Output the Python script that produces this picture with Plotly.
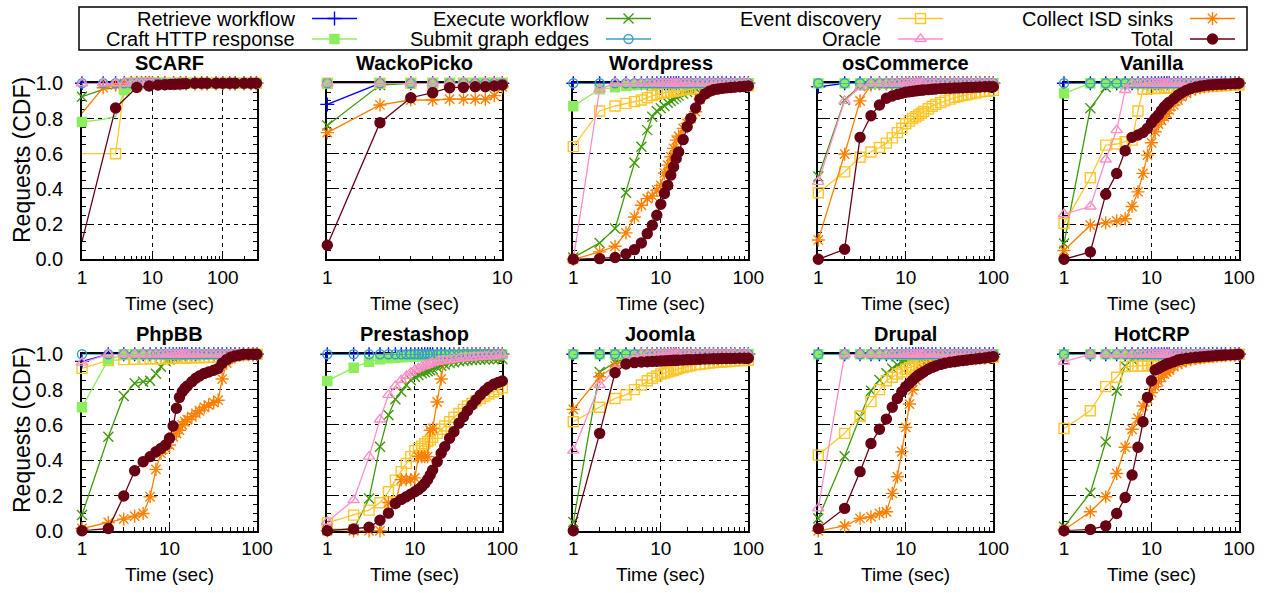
import math
import plotly.graph_objects as go

FIG_W, FIG_H = 1273, 593
FONT = "Liberation Sans, Arial, sans-serif"

APPS = ["SCARF", "WackoPicko", "Wordpress", "osCommerce", "Vanilla",
        "PhpBB", "Prestashop", "Joomla", "Drupal", "HotCRP"]
SERIES = ["Retrieve workflow", "Craft HTTP response", "Execute workflow",
          "Submit graph edges", "Event discovery", "Oracle",
          "Collect ISD sinks", "Total"]
COLORS = ["#0000ff", "#8cee5c", "#3f9b0b", "#3a9ec2",
          "#ffc62a", "#ff8ec8", "#ff8000", "#680014"]
SYMBOLS = ["cross-thin-open", "square", "x-thin-open", "circle-open",
           "square-open", "triangle-up-open", "asterisk-open", "circle"]
MSIZES = [10, 9, 10, 9, 10, 10, 11, 10]
# the key is filled row by row, which is also the drawing order
DRAW_ORDER = [0, 2, 4, 6, 1, 3, 5, 7]

# ---------------- x grids (seconds) ----------------
X_GRID = [1, 2, 3, 4, 5, 6, 7, 8, 9, 10, 11, 12, 13, 14, 15, 16, 18, 20, 22, 25,
          28, 32, 36, 40, 45, 50, 56, 63, 70, 80, 90, 100]
X_WACKO = [1, 2, 3, 4, 5, 6, 7, 8, 9, 10]
X_SCARF = [1, 2, 3, 4, 5, 6, 7, 8, 9, 10, 12, 15, 20, 25, 30, 40, 50, 60, 80, 100,
           125, 150, 200, 250, 300]
X_SCARF_TOTAL = [1, 3, 6, 9, 12, 15, 18, 21, 24, 27, 30, 40, 50, 60, 80, 100,
                 125, 150, 200, 250, 300]
MINOR_X = [2, 3, 4, 5, 6, 7, 8, 9, 20, 30, 40, 50, 60, 70, 80, 90, 200, 300]

ONE_GRID = [1, 1, 1, 1, 1, 1, 1, 1, 1, 1, 1, 1, 1, 1, 1, 1, 1, 1, 1, 1, 1, 1, 1, 1,
            1, 1, 1, 1, 1, 1, 1, 1]
ONE_WACKO = [1, 1, 1, 1, 1, 1, 1, 1, 1, 1]
ONE_SCARF = [1, 1, 1, 1, 1, 1, 1, 1, 1, 1, 1, 1, 1, 1, 1, 1, 1, 1, 1, 1, 1, 1, 1, 1, 1]

# ---------------- SCARF ----------------
SC_CRAFT = [0.78, 0.795, 0.81, 0.96, 0.985, 1, 1, 1, 1, 1, 1, 1, 1, 1, 1, 1, 1, 1,
            1, 1, 1, 1, 1, 1, 1]
SC_EXEC = [0.924, 0.965, 0.975, 0.985, 0.99, 1, 1, 1, 1, 1, 1, 1, 1, 1, 1, 1, 1, 1,
           1, 1, 1, 1, 1, 1, 1]
SC_EVENT = [0.60, 0.60, 0.60, 0.97, 1, 1, 1, 1, 1, 1, 1, 1, 1, 1, 1, 1, 1, 1, 1, 1,
            1, 1, 1, 1, 1]
SC_COLLECT = [0.83, 0.975, 0.99, 1, 1, 1, 1, 1, 1, 1, 1, 1, 1, 1, 1, 1, 1, 1, 1, 1,
              1, 1, 1, 1, 1]
SC_TOTAL = [0.10, 0.86, 0.977, 0.985, 0.99, 0.992, 0.994, 0.995, 0.996, 0.997,
            0.998, 1, 1, 1, 1, 1, 1, 1, 1, 1, 1]

# ---------------- WackoPicko ----------------
WK_RETRIEVE = [0.88, 1, 1, 1, 1, 1, 1, 1, 1, 1]
WK_EXEC = [0.76, 0.99, 1, 1, 1, 1, 1, 1, 1, 1]
WK_COLLECT = [0.72, 0.877, 0.905, 0.905, 0.91, 0.91, 0.91, 0.91, 0.93, 0.98]
WK_TOTAL = [0.08, 0.776, 0.918, 0.947, 0.975, 0.977, 0.98, 0.98, 0.985, 0.99]

# ---------------- Wordpress ----------------
WP_CRAFT = [0.87, 0.966, 0.977, 0.985, 0.99, 0.993, 0.995, 0.997, 0.998, 1, 1, 1,
            1, 1, 1, 1, 1, 1, 1, 1, 1, 1, 1, 1, 1, 1, 1, 1, 1, 1, 1, 1]
WP_EXEC = [0.01, 0.093, 0.175, 0.378, 0.548, 0.64, 0.734, 0.81, 0.843, 0.858,
           0.871, 0.89, 0.90, 0.91, 0.92, 0.93, 0.94, 0.95, 0.96, 0.97, 0.98,
           0.985, 0.99, 0.995, 0.997, 1, 1, 1, 1, 1, 1, 1]
WP_EVENT = [0.64, 0.843, 0.871, 0.886, 0.896, 0.905, 0.918, 0.93, 0.937, 0.943,
            0.946, 0.95, 0.952, 0.955, 0.958, 0.96, 0.963, 0.966, 0.968, 0.97,
            0.972, 0.975, 0.977, 0.978, 0.979, 0.98, 0.981, 0.982, 0.983, 0.984,
            0.985, 0.986]
WP_ORACLE = [0, 0.966, 1, 1, 1, 1, 1, 1, 1, 1, 1, 1, 1, 1, 1, 1, 1, 1, 1, 1, 1, 1,
             1, 1, 1, 1, 1, 1, 1, 1, 1, 1]
WP_COLLECT = [0, 0.042, 0.074, 0.15, 0.24, 0.307, 0.345, 0.36, 0.393, 0.42, 0.49,
              0.535, 0.583, 0.63, 0.677, 0.70, 0.744, 0.772, 0.80, 0.838, 0.91,
              0.94, 0.955, 0.965, 0.975, 0.982, 0.988, 0.99, 0.993, 0.995, 0.998, 1]
WP_TOTAL = [0, 0.004, 0.01, 0.03, 0.055, 0.093, 0.146, 0.194, 0.25, 0.313, 0.374,
            0.42, 0.478, 0.526, 0.573, 0.61, 0.68, 0.753, 0.80, 0.86, 0.91, 0.94,
            0.955, 0.963, 0.968, 0.971, 0.974, 0.976, 0.978, 0.98, 0.982, 0.985]

# ---------------- osCommerce ----------------
OS_RETRIEVE = [0.98, 1, 1, 1, 1, 1, 1, 1, 1, 1, 1, 1, 1, 1, 1, 1, 1, 1, 1, 1, 1, 1,
               1, 1, 1, 1, 1, 1, 1, 1, 1, 1]
OS_EXEC = [0.47, 0.905, 0.985, 1, 1, 1, 1, 1, 1, 1, 1, 1, 1, 1, 1, 1, 1, 1, 1, 1,
           1, 1, 1, 1, 1, 1, 1, 1, 1, 1, 1, 1]
OS_EVENT = [0.378, 0.497, 0.58, 0.61, 0.635, 0.66, 0.69, 0.72, 0.745, 0.77, 0.785,
            0.80, 0.81, 0.82, 0.83, 0.84, 0.855, 0.87, 0.88, 0.89, 0.90, 0.91,
            0.92, 0.925, 0.93, 0.935, 0.94, 0.945, 0.95, 0.955, 0.955, 0.96]
OS_ORACLE = [0.44, 0.90, 0.977, 1, 1, 1, 1, 1, 1, 1, 1, 1, 1, 1, 1, 1, 1, 1, 1, 1,
             1, 1, 1, 1, 1, 1, 1, 1, 1, 1, 1, 1]
OS_COLLECT = [0.11, 0.598, 0.90, 0.99, 1, 1, 1, 1, 1, 1, 1, 1, 1, 1, 1, 1, 1, 1, 1,
              1, 1, 1, 1, 1, 1, 1, 1, 1, 1, 1, 1, 1]
OS_TOTAL = [0, 0.057, 0.693, 0.816, 0.877, 0.915, 0.928, 0.937, 0.943, 0.949,
            0.952, 0.955, 0.957, 0.959, 0.961, 0.962, 0.964, 0.966, 0.968, 0.97,
            0.971, 0.972, 0.973, 0.974, 0.975, 0.976, 0.977, 0.978, 0.979, 0.98,
            0.98, 0.98]

# ---------------- Vanilla ----------------
VA_CRAFT = [0.943, 1, 1, 1, 1, 1, 1, 1, 1, 1, 1, 1, 1, 1, 1, 1, 1, 1, 1, 1, 1, 1,
            1, 1, 1, 1, 1, 1, 1, 1, 1, 1]
VA_EXEC = [0.09, 0.858, 0.977, 1, 1, 1, 1, 1, 1, 1, 1, 1, 1, 1, 1, 1, 1, 1, 1, 1,
           1, 1, 1, 1, 1, 1, 1, 1, 1, 1, 1, 1]
VA_EVENT = [0.203, 0.463, 0.649, 0.655, 0.668, 0.677, 0.843, 0.966, 0.968, 0.97,
            0.97, 0.971, 0.971, 0.972, 0.972, 0.973, 0.974, 0.975, 0.976, 0.977,
            0.978, 0.979, 0.98, 0.981, 0.982, 0.983, 0.985, 0.986, 0.987, 0.988,
            0.989, 0.99]
VA_ORACLE = [0.256, 0.30, 0.567, 0.734, 0.962, 1, 1, 1, 1, 1, 1, 1, 1, 1, 1, 1, 1,
             1, 1, 1, 1, 1, 1, 1, 1, 1, 1, 1, 1, 1, 1, 1]
VA_COLLECT = [0.05, 0.194, 0.207, 0.218, 0.23, 0.30, 0.383, 0.488, 0.592, 0.662,
              0.725, 0.768, 0.79, 0.81, 0.829, 0.848, 0.877, 0.905, 0.924, 0.943,
              0.958, 0.967, 0.975, 0.98, 0.985, 0.988, 0.99, 0.992, 0.994, 0.996,
              0.998, 1]
VA_TOTAL = [0, 0.042, 0.37, 0.488, 0.617, 0.693, 0.706, 0.72, 0.744, 0.776, 0.80,
            0.82, 0.845, 0.865, 0.88, 0.893, 0.912, 0.932, 0.945, 0.96, 0.97,
            0.978, 0.983, 0.987, 0.99, 0.992, 0.994, 0.995, 0.996, 0.997, 0.998, 1]

# ---------------- PhpBB ----------------
PH_RETRIEVE = [0.96, 1, 1, 1, 1, 1, 1, 1, 1, 1, 1, 1, 1, 1, 1, 1, 1, 1, 1, 1, 1, 1,
               1, 1, 1, 1, 1, 1, 1, 1, 1, 1]
PH_CRAFT = [0.70, 0.97, 1, 1, 1, 1, 1, 1, 1, 1, 1, 1, 1, 1, 1, 1, 1, 1, 1, 1, 1, 1,
            1, 1, 1, 1, 1, 1, 1, 1, 1, 1]
PH_EXEC = [0.09, 0.533, 0.764, 0.836, 0.845, 0.85, 0.89, 0.93, 0.96, 0.97, 0.98,
           0.99, 1, 1, 1, 1, 1, 1, 1, 1, 1, 1, 1, 1, 1, 1, 1, 1, 1, 1, 1, 1]
PH_EVENT = [0.92, 0.965, 0.97, 0.972, 0.973, 0.974, 0.975, 0.975, 0.976, 0.976,
            0.977, 0.977, 0.978, 0.978, 0.979, 0.979, 0.98, 0.98, 0.981, 0.982,
            0.983, 0.984, 0.985, 0.986, 0.988, 0.99, 0.992, 0.994, 0.996, 0.998, 1, 1]
PH_ORACLE = [0.953, 1, 1, 1, 1, 1, 1, 1, 1, 1, 1, 1, 1, 1, 1, 1, 1, 1, 1, 1, 1, 1,
             1, 1, 1, 1, 1, 1, 1, 1, 1, 1]
PH_COLLECT = [0.013, 0.047, 0.066, 0.083, 0.098, 0.193, 0.348, 0.439, 0.467, 0.486,
              0.533, 0.552, 0.57, 0.60, 0.618, 0.63, 0.646, 0.665, 0.68, 0.70,
              0.713, 0.726, 0.74, 0.86, 0.95, 0.975, 0.988, 0.995, 1, 1, 1, 1]
PH_TOTAL = [0, 0.013, 0.197, 0.34, 0.391, 0.42, 0.448, 0.467, 0.486, 0.524, 0.594,
            0.694, 0.756, 0.788, 0.807, 0.82, 0.845, 0.864, 0.877, 0.892, 0.90,
            0.91, 0.92, 0.949, 0.97, 0.983, 0.99, 0.995, 1, 1, 1, 1]

# ---------------- Prestashop ----------------
PR_CRAFT = [0.849, 0.924, 0.958, 0.972, 0.977, 0.98, 0.983, 0.985, 0.986, 0.988,
            0.989, 0.99, 0.99, 0.99, 0.99, 0.991, 0.992, 0.993, 0.994, 0.995,
            0.996, 0.997, 0.998, 0.999, 1, 1, 1, 1, 1, 1, 1, 1]
PR_EXEC = [0.008, 0.008, 0.183, 0.476, 0.656, 0.745, 0.788, 0.826, 0.854, 0.873,
           0.883, 0.892, 0.898, 0.904, 0.91, 0.915, 0.925, 0.935, 0.942, 0.95,
           0.955, 0.96, 0.963, 0.966, 0.968, 0.969, 0.97, 0.971, 0.972, 0.972,
           0.973, 0.973]
PR_EVENT = [0.045, 0.089, 0.117, 0.159, 0.221, 0.287, 0.335, 0.382, 0.42, 0.454,
            0.467, 0.48, 0.493, 0.505, 0.514, 0.53, 0.552, 0.575, 0.594, 0.618,
            0.643, 0.665, 0.688, 0.707, 0.722, 0.737, 0.75, 0.764, 0.775, 0.788,
            0.80, 0.81]
PR_ORACLE = [0.051, 0.174, 0.42, 0.631, 0.77, 0.82, 0.854, 0.877, 0.896, 0.911,
             0.92, 0.93, 0.935, 0.94, 0.949, 0.952, 0.958, 0.962, 0.965, 0.968,
             0.972, 0.975, 0.978, 0.98, 0.982, 0.984, 0.986, 0.988, 0.99, 0.992,
             0.994, 0.996]
PR_COLLECT = [0, 0, 0, 0, 0.16, 0.16, 0.29, 0.29, 0.29, 0.30, 0.42, 0.42, 0.42,
              0.42, 0.57, 0.58, 0.73, 0.86, 0.98, 0.99, 1, 1, 1, 1, 1, 1, 1, 1, 1,
              1, 1, 1]
PR_TOTAL = [0, 0.01, 0.02, 0.06, 0.10, 0.155, 0.178, 0.193, 0.208, 0.221, 0.234,
            0.25, 0.268, 0.29, 0.316, 0.344, 0.391, 0.439, 0.476, 0.524, 0.561,
            0.609, 0.646, 0.68, 0.713, 0.741, 0.769, 0.794, 0.813, 0.83, 0.841,
            0.849]

# ---------------- Joomla ----------------
JO_EXEC = [0.05, 0.90, 0.953, 0.977, 1, 1, 1, 1, 1, 1, 1, 1, 1, 1, 1, 1, 1, 1, 1,
           1, 1, 1, 1, 1, 1, 1, 1, 1, 1, 1, 1, 1]
JO_EVENT = [0.618, 0.70, 0.75, 0.77, 0.80, 0.826, 0.85, 0.864, 0.877, 0.888,
            0.894, 0.90, 0.905, 0.91, 0.915, 0.919, 0.925, 0.93, 0.935, 0.94,
            0.944, 0.947, 0.95, 0.953, 0.955, 0.956, 0.958, 0.96, 0.962, 0.964,
            0.965, 0.966]
JO_ORACLE = [0.454, 0.826, 0.911, 0.958, 0.987, 1, 1, 1, 1, 1, 1, 1, 1, 1, 1, 1,
             1, 1, 1, 1, 1, 1, 1, 1, 1, 1, 1, 1, 1, 1, 1, 1]
JO_COLLECT = [0.688, 0.873, 0.934, 0.977, 0.987, 1, 1, 1, 1, 1, 1, 1, 1, 1, 1, 1,
              1, 1, 1, 1, 1, 1, 1, 1, 1, 1, 1, 1, 1, 1, 1, 1]
JO_TOTAL = [0, 0.552, 0.896, 0.945, 0.953, 0.956, 0.958, 0.96, 0.961, 0.962,
            0.963, 0.964, 0.965, 0.966, 0.966, 0.967, 0.968, 0.969, 0.97, 0.971,
            0.972, 0.973, 0.974, 0.975, 0.975, 0.976, 0.976, 0.977, 0.977, 0.978,
            0.978, 0.978]

# ---------------- Drupal ----------------
DR_EXEC = [0.07, 0.423, 0.646, 0.794, 0.854, 0.892, 0.92, 0.94, 0.953, 0.964, 0.97,
           0.977, 0.981, 0.984, 0.987, 0.989, 0.992, 0.994, 0.996, 0.998, 1, 1, 1,
           1, 1, 1, 1, 1, 1, 1, 1, 1]
DR_EVENT = [0.429, 0.552, 0.65, 0.732, 0.80, 0.85, 0.87, 0.888, 0.90, 0.915, 0.925,
            0.934, 0.94, 0.945, 0.949, 0.953, 0.958, 0.962, 0.965, 0.968, 0.971,
            0.973, 0.974, 0.975, 0.977, 0.978, 0.979, 0.979, 0.98, 0.982, 0.984,
            0.985]
DR_ORACLE = [0.127, 1, 1, 1, 1, 1, 1, 1, 1, 1, 1, 1, 1, 1, 1, 1, 1, 1, 1, 1, 1, 1,
             1, 1, 1, 1, 1, 1, 1, 1, 1, 1]
DR_COLLECT = [0, 0.028, 0.07, 0.079, 0.098, 0.108, 0.212, 0.306, 0.448, 0.586,
              0.718, 0.798, 0.854, 0.883, 0.90, 0.915, 0.93, 0.943, 0.953, 0.958,
              0.962, 0.964, 0.966, 0.968, 0.97, 0.972, 0.974, 0.976, 0.978, 0.98,
              0.983, 0.985]
DR_TOTAL = [0.013, 0.127, 0.335, 0.495, 0.575, 0.633, 0.70, 0.75, 0.788, 0.817,
            0.836, 0.854, 0.87, 0.883, 0.892, 0.90, 0.915, 0.926, 0.934, 0.943,
            0.949, 0.955, 0.958, 0.962, 0.965, 0.968, 0.971, 0.974, 0.976, 0.979,
            0.983, 0.987]

# ---------------- HotCRP ----------------
HC_EXEC = [0.023, 0.215, 0.505, 0.794, 0.934, 0.97, 0.99, 1, 1, 1, 1, 1, 1, 1, 1,
           1, 1, 1, 1, 1, 1, 1, 1, 1, 1, 1, 1, 1, 1, 1, 1, 1]
HC_EVENT = [0.58, 0.68, 0.817, 0.87, 0.93, 0.932, 0.933, 0.934, 0.935, 0.936, 0.94,
            0.944, 0.948, 0.952, 0.955, 0.958, 0.96, 0.962, 0.966, 0.97, 0.975,
            0.978, 0.98, 0.983, 0.985, 0.988, 0.99, 0.992, 0.994, 0.996, 0.998, 1]
HC_ORACLE = [0.958, 1, 1, 1, 1, 1, 1, 1, 1, 1, 1, 1, 1, 1, 1, 1, 1, 1, 1, 1, 1, 1,
             1, 1, 1, 1, 1, 1, 1, 1, 1, 1]
HC_COLLECT = [0.004, 0.108, 0.193, 0.325, 0.473, 0.575, 0.637, 0.707, 0.745, 0.783,
              0.817, 0.845, 0.87, 0.888, 0.90, 0.911, 0.93, 0.945, 0.953, 0.964,
              0.97, 0.976, 0.98, 0.984, 0.986, 0.988, 0.99, 0.992, 0.994, 0.996,
              0.998, 1]
HC_TOTAL = [0, 0.008, 0.028, 0.098, 0.189, 0.316, 0.473, 0.618, 0.756, 0.85, 0.911,
            0.92, 0.93, 0.938, 0.945, 0.95, 0.958, 0.968, 0.972, 0.977, 0.98,
            0.983, 0.985, 0.987, 0.989, 0.991, 0.993, 0.995, 0.996, 0.997, 0.998, 1]

# panel: (x grid, x upper limit, [series values in SERIES order])
PANELS = [
    (X_SCARF, 306, [ONE_SCARF, SC_CRAFT, SC_EXEC, ONE_SCARF, SC_EVENT, ONE_SCARF,
                    SC_COLLECT, SC_TOTAL]),
    (X_WACKO, 10, [WK_RETRIEVE, ONE_WACKO, WK_EXEC, ONE_WACKO, ONE_WACKO, ONE_WACKO,
                   WK_COLLECT, WK_TOTAL]),
    (X_GRID, 100, [ONE_GRID, WP_CRAFT, WP_EXEC, ONE_GRID, WP_EVENT, WP_ORACLE,
                   WP_COLLECT, WP_TOTAL]),
    (X_GRID, 100, [OS_RETRIEVE, ONE_GRID, OS_EXEC, ONE_GRID, OS_EVENT, OS_ORACLE,
                   OS_COLLECT, OS_TOTAL]),
    (X_GRID, 100, [ONE_GRID, VA_CRAFT, VA_EXEC, ONE_GRID, VA_EVENT, VA_ORACLE,
                   VA_COLLECT, VA_TOTAL]),
    (X_GRID, 100, [PH_RETRIEVE, PH_CRAFT, PH_EXEC, ONE_GRID, PH_EVENT, PH_ORACLE,
                   PH_COLLECT, PH_TOTAL]),
    (X_GRID, 100, [ONE_GRID, PR_CRAFT, PR_EXEC, ONE_GRID, PR_EVENT, PR_ORACLE,
                   PR_COLLECT, PR_TOTAL]),
    (X_GRID, 100, [ONE_GRID, ONE_GRID, JO_EXEC, ONE_GRID, JO_EVENT, JO_ORACLE,
                   JO_COLLECT, JO_TOTAL]),
    (X_GRID, 100, [ONE_GRID, ONE_GRID, DR_EXEC, ONE_GRID, DR_EVENT, DR_ORACLE,
                   DR_COLLECT, DR_TOTAL]),
    (X_GRID, 100, [ONE_GRID, ONE_GRID, HC_EXEC, ONE_GRID, HC_EVENT, HC_ORACLE,
                   HC_COLLECT, HC_TOTAL]),
]
X_OVERRIDE = {(0, 7): X_SCARF_TOTAL}
HIDDEN_MARKERS = {(0, 1): [1, 2], (0, 2): [1, 2], (0, 4): [0, 1], (0, 6): [0],
                  (0, 7): [0]}

# ---------------- layout geometry (pixels) ----------------
COL_LEFT = [82, 327.3, 573.3, 818.3, 1064]
PLOT_W = 175
ROW_TOP = [83.3, 354.3]
ROW_H = [176, 176.5]


def ax_name(prefix, k):
    return prefix if k == 1 else f"{prefix}{k}"


fig = go.Figure()
layout = dict(
    width=FIG_W, height=FIG_H,
    margin=dict(l=0, r=0, t=0, b=0, autoexpand=False),
    paper_bgcolor="white", plot_bgcolor="rgba(0,0,0,0)", showlegend=False,
    font=dict(family=FONT, color="black"),
)
annotations = []
shapes = []

axis_common = dict(
    showline=True, linecolor="black", linewidth=1.5, mirror="ticks",
    ticks="inside", ticklen=8, tickwidth=1, tickcolor="black",
    showgrid=True, gridcolor="black", gridwidth=1, griddash="4px,4px",
    zeroline=False, layer="below traces", fixedrange=True, automargin=False,
)

for i, (xs, xmax, vals) in enumerate(PANELS):
    r, c = divmod(i, 5)
    k = i + 1
    left = COL_LEFT[c]
    top = ROW_TOP[r]
    h = ROW_H[r]
    xd = [left / FIG_W, (left + PLOT_W) / FIG_W]
    yd = [1 - (top + h) / FIG_H, 1 - top / FIG_H]
    xid, yid = ax_name("x", k), ax_name("y", k)
    layout[ax_name("xaxis", k)] = dict(
        axis_common, type="log", domain=xd, anchor=yid,
        range=[0, math.log10(xmax)], tickmode="array",
        tickvals=[1, 10, 100], ticktext=["1", "10", "100"],
        tickfont=dict(family=FONT, size=19, color="black"),
        minor=dict(ticks="inside", ticklen=4, tickwidth=1, tickcolor="black",
                   tickmode="array", tickvals=MINOR_X, showgrid=False),
    )
    layout[ax_name("yaxis", k)] = dict(
        axis_common, domain=yd, anchor=xid, range=[0, 1],
        tickmode="linear", tick0=0, dtick=0.2, tickformat=".1f",
        showticklabels=(c == 0), ticklabelstandoff=13,
        tickfont=dict(family=FONT, size=20, color="black"),
        minor=dict(ticks="inside", ticklen=4, tickwidth=1, tickcolor="black",
                   tickmode="linear", tick0=0, dtick=0.05, showgrid=False),
    )
    for s in DRAW_ORDER:
        ys = vals[s]
        xv = X_OVERRIDE.get((i, s), xs)
        hide = HIDDEN_MARKERS.get((i, s), [])
        sizes = [0 if j in hide else MSIZES[s] for j in range(len(xv))]
        fig.add_trace(go.Scatter(
            x=xv, y=ys, mode="lines+markers", xaxis=xid, yaxis=yid,
            line=dict(color=COLORS[s], width=1.3),
            marker=dict(symbol=SYMBOLS[s], size=sizes, color=COLORS[s],
                        opacity=1, line=dict(color=COLORS[s], width=1.4)),
            cliponaxis=False, hoverinfo="skip", name=SERIES[s],
        ))
    cx = (left + PLOT_W / 2) / FIG_W
    annotations.append(dict(
        text=f"<b>{APPS[i]}</b>", x=cx, y=1 - (top - 20) / FIG_H, xref="paper",
        yref="paper", showarrow=False, xanchor="center", yanchor="middle",
        font=dict(family=FONT, size=20, color="black")))
    annotations.append(dict(
        text="Time (sec)", x=cx, y=1 - (top + h + 44) / FIG_H, xref="paper",
        yref="paper", showarrow=False, xanchor="center", yanchor="middle",
        font=dict(family=FONT, size=19, color="black")))

for r, yc in enumerate([160, 430]):
    annotations.append(dict(
        text="Requests (CDF)", x=22 / FIG_W, y=1 - yc / FIG_H, xref="paper",
        yref="paper", showarrow=False, xanchor="center", yanchor="middle",
        textangle=-90, font=dict(family=FONT, size=23, color="black")))

# ---------------- legend (gnuplot-style key) ----------------
KEY_BOX = (79, 7, 1247, 50)
KEY_TEXT_END = [297, 591, 883, 1175]
KEY_ROW_Y = [18.5, 39]
shapes.append(dict(type="rect", xref="paper", yref="paper",
                   x0=KEY_BOX[0] / FIG_W, x1=KEY_BOX[2] / FIG_W,
                   y0=1 - KEY_BOX[3] / FIG_H, y1=1 - KEY_BOX[1] / FIG_H,
                   line=dict(color="black", width=1.5)))
layout["xaxis11"] = dict(domain=[KEY_BOX[0] / FIG_W, KEY_BOX[2] / FIG_W],
                         range=[KEY_BOX[0], KEY_BOX[2]], visible=False,
                         fixedrange=True, anchor="y11")
layout["yaxis11"] = dict(domain=[1 - KEY_BOX[3] / FIG_H, 1 - KEY_BOX[1] / FIG_H],
                         range=[KEY_BOX[3], KEY_BOX[1]], visible=False,
                         fixedrange=True, anchor="x11")
for s, name in enumerate(SERIES):
    col, row = divmod(s, 2)
    te = KEY_TEXT_END[col]
    yy = KEY_ROW_Y[row]
    annotations.append(dict(
        text=name, x=te / FIG_W, y=1 - yy / FIG_H, xref="paper", yref="paper",
        showarrow=False, xanchor="right", yanchor="middle",
        font=dict(family=FONT, size=20, color="black")))
    fig.add_trace(go.Scatter(
        x=[te + 15, te + 60], y=[yy, yy], mode="lines", xaxis="x11",
        yaxis="y11", line=dict(color=COLORS[s], width=1.3), hoverinfo="skip"))
    fig.add_trace(go.Scatter(
        x=[te + 37.5], y=[yy], mode="markers", xaxis="x11", yaxis="y11",
        marker=dict(symbol=SYMBOLS[s], size=MSIZES[s], color=COLORS[s],
                    opacity=1, line=dict(color=COLORS[s], width=1.4)),
        hoverinfo="skip", cliponaxis=False))

layout["annotations"] = annotations
layout["shapes"] = shapes
fig.update_layout(**layout)
fig.write_html("out.html", config={"displayModeBar": False},
               post_script="document.body.style.margin='0';"
                           "document.body.style.padding='0';")
